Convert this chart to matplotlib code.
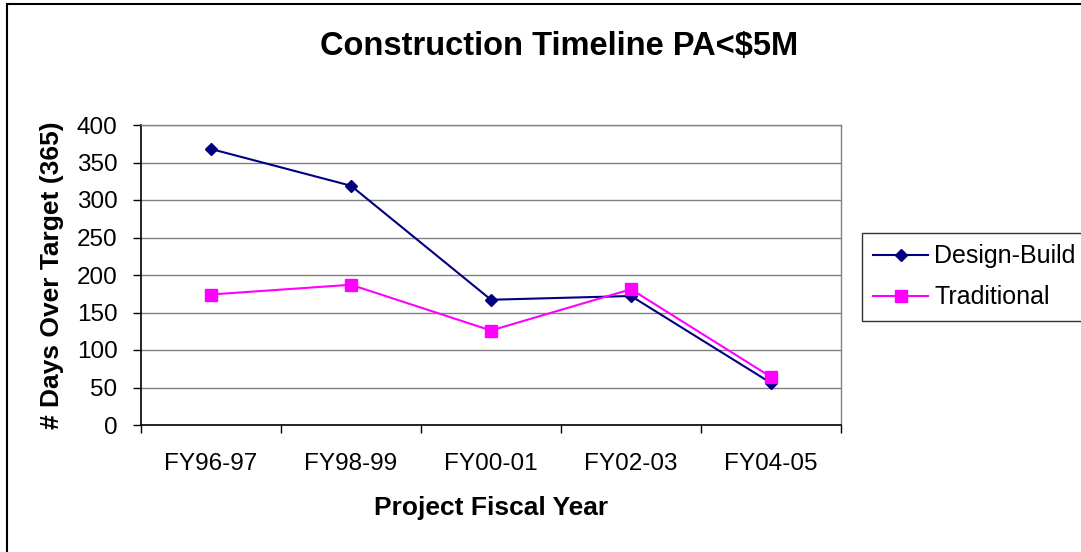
import numpy as np
import matplotlib
matplotlib.use("Agg")
import matplotlib.pyplot as plt
from matplotlib.patches import Rectangle

# data
years = ["FY96-97", "FY98-99", "FY00-01", "FY02-03", "FY04-05"]
design_build = [368, 319, 167, 172, 56]
traditional = [174, 187, 126, 181, 64]
y_ticks = [0, 50, 100, 150, 200, 250, 300, 350, 400]

plt.rcParams['font.family'] = ['Liberation Sans', 'DejaVu Sans']

W, H = 1081, 552
fig = plt.figure(figsize=(W / 100, H / 100), dpi=100)
ax = fig.add_axes([141 / W, 1 - 425 / H, 700 / W, 300 / H])

x = np.arange(len(years))
ax.plot(x, design_build, color='#000080', lw=1.5, marker='D', ms=6.5,
        label='Design-Build', zorder=3)
ax.plot(x, traditional, color='#FF00FF', lw=1.5, marker='s', ms=8.5,
        label='Traditional', zorder=3)

ax.set_xlim(-0.5, len(years) - 0.5)
ax.set_ylim(0, 400)
ax.set_yticks(y_ticks)
ax.yaxis.grid(True, color='#808080', lw=1.0)
ax.set_axisbelow(True)

# category boundaries get the tick marks, labels sit in between
ax.set_xticks(np.arange(-0.5, len(years), 1.0))
ax.set_xticklabels([])
ax.set_xticks(x, minor=True)
ax.set_xticklabels(years, minor=True)
ax.tick_params(axis='x', which='major', length=6, width=1, color='black', direction='out')
ax.tick_params(axis='x', which='minor', length=0, pad=20, labelsize=17.5)
ax.tick_params(axis='y', length=6, width=1, direction='out', pad=11, labelsize=17.5)

for s in ['left', 'bottom']:
    ax.spines[s].set_color('black')
    ax.spines[s].set_linewidth(1.2)
for s in ['top', 'right']:
    ax.spines[s].set_color('#808080')
    ax.spines[s].set_linewidth(1.0)

fig.text(559 / W, 1 - 47 / H, "Construction Timeline PA<$5M", ha='center', va='center',
         fontsize=23.5, fontweight='bold')
fig.text(491 / W, 1 - 508 / H, "Project Fiscal Year", ha='center', va='center',
         fontsize=19, fontweight='bold')
fig.text(52 / W, 1 - 275 / H, "# Days Over Target (365)", ha='center', va='center',
         rotation=90, fontsize=19, fontweight='bold')

leg = fig.legend(loc='upper left', bbox_to_anchor=(862 / W, 1 - 233 / H),
                 bbox_transform=fig.transFigure, fontsize=18, frameon=True,
                 fancybox=False, edgecolor='black', handlelength=2.2,
                 handletextpad=0.25, borderpad=0.45, labelspacing=0.68,
                 borderaxespad=0)
leg.get_frame().set_linewidth(1.0)

# outer chart border, runs off the right and bottom edges
fig.patches.append(Rectangle((7 / W, -0.1), 1.2, 1.1 - 4 / H, transform=fig.transFigure,
                             fill=False, edgecolor='black', lw=1.5))

fig.savefig("out.png", dpi=100)
